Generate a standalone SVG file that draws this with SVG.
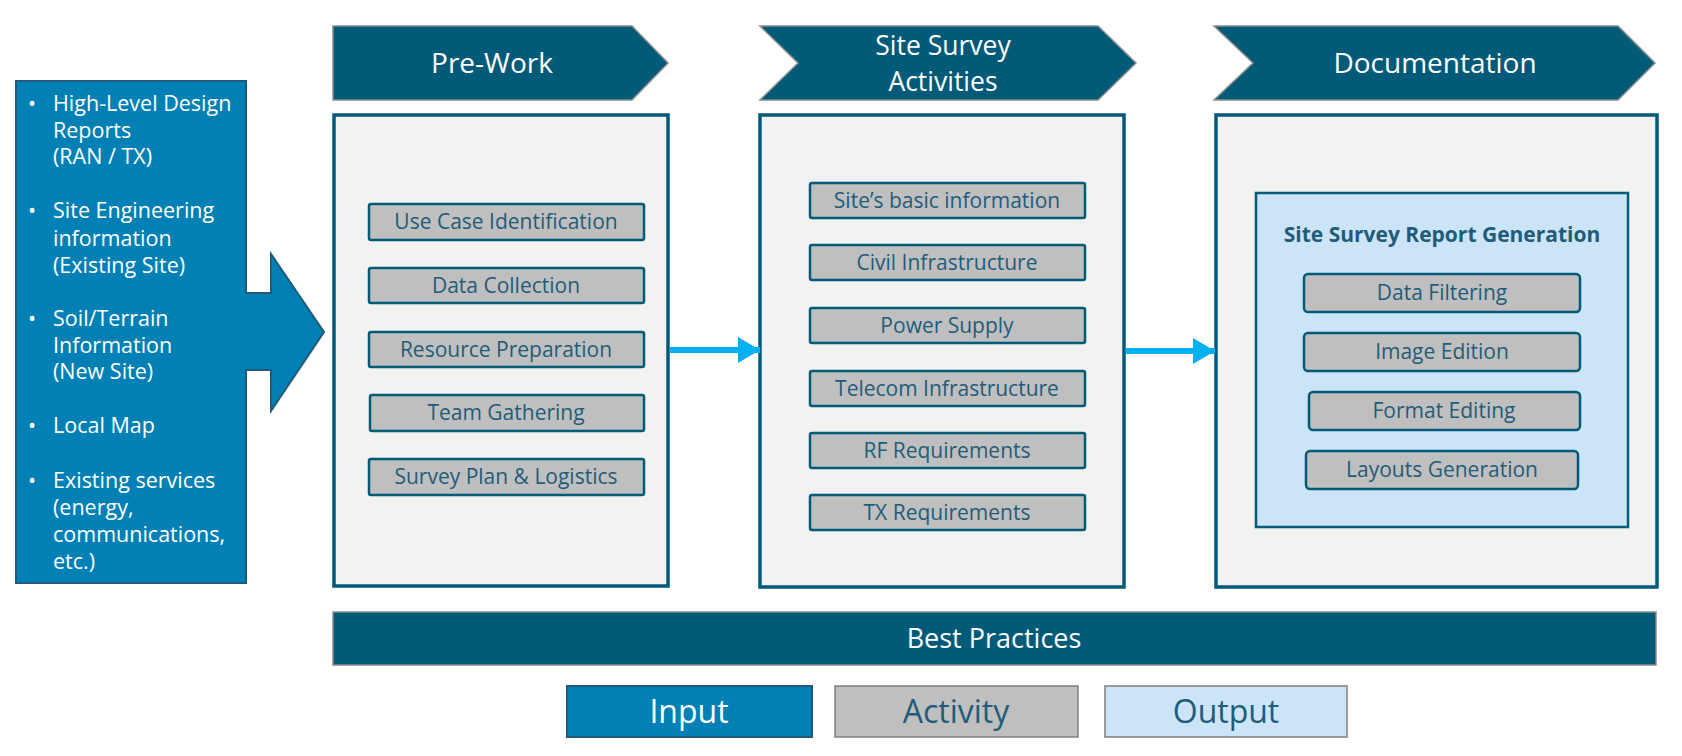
<svg xmlns="http://www.w3.org/2000/svg" width="1682" height="756" viewBox="0 0 1682 756">
<defs>
<style>
text{font-family:"Open Sans","Noto Sans","Liberation Sans",sans-serif;}
.chev{fill:#005A78;stroke:#8C8C8C;stroke-width:1.5;}
.hdr{fill:#ffffff;font-size:28px;text-anchor:middle;}
.hdr2{fill:#ffffff;font-size:26.5px;text-anchor:middle;}
.panel{fill:#F2F2F2;stroke:#005A78;stroke-width:3.5;}
.act{fill:#BFBFBF;stroke:#005A78;stroke-width:2.5;}
.actt{fill:#1F5C7A;font-size:21px;text-anchor:middle;}
.inp{fill:#0080B4;stroke:#1F5A7A;stroke-width:2;}
.inpt{fill:#ffffff;font-size:21.5px;}
.out{fill:#CCE4F7;stroke:#005A78;stroke-width:2.5;}
.conn{stroke:#00B0F0;stroke-width:6;fill:none;}
</style>
<marker id="ah" markerUnits="userSpaceOnUse" markerWidth="24" markerHeight="26" refX="22" refY="13" orient="auto">
<path d="M0,0 L22,13 L0,26 Z" fill="#00B0F0"/>
</marker>
</defs>
<rect width="1682" height="756" fill="#ffffff"/>

<g id="input">
<path class="inp" d="M16,81 H246 V293 H271 V254 L324,332 L271,411 V370 H246 V583 H16 Z"/>
<g class="inpt">
<text x="28" y="111">•</text>
<text x="53" y="111">High-Level Design</text>
<text x="53" y="138">Reports</text>
<text x="53" y="164">(RAN / TX)</text>
<text x="28" y="218">•</text>
<text x="53" y="218">Site Engineering</text>
<text x="53" y="246">information</text>
<text x="53" y="273">(Existing Site)</text>
<text x="28" y="326">•</text>
<text x="53" y="326">Soil/Terrain</text>
<text x="53" y="353">Information</text>
<text x="53" y="379">(New Site)</text>
<text x="28" y="433">•</text>
<text x="53" y="433">Local Map</text>
<text x="28" y="488">•</text>
<text x="53" y="488">Existing services</text>
<text x="53" y="515">(energy,</text>
<text x="53" y="542">communications,</text>
<text x="53" y="569">etc.)</text>
</g>
</g>

<g id="prework">
<path class="chev" d="M333,26 H632 L668,63 L632,100 H333 Z"/>
<text class="hdr" x="492" y="73">Pre-Work</text>
<rect class="panel" x="334" y="115" width="334" height="471"/>
<rect class="act" x="369" y="204" width="275" height="36" rx="2"/>
<text class="actt" x="506" y="229">Use Case Identification</text>
<rect class="act" x="369" y="268" width="275" height="35" rx="2"/>
<text class="actt" x="506" y="293">Data Collection</text>
<rect class="act" x="369" y="332" width="275" height="35" rx="2"/>
<text class="actt" x="506" y="357">Resource Preparation</text>
<rect class="act" x="370" y="395" width="274" height="36" rx="2"/>
<text class="actt" x="506" y="420">Team Gathering</text>
<rect class="act" x="369" y="459" width="275" height="36" rx="2"/>
<text class="actt" x="506" y="484">Survey Plan &amp; Logistics</text>
</g>

<g id="sitesurvey">
<path class="chev" d="M760,26 H1098 L1136,63 L1098,100 H760 L798,63 Z"/>
<text class="hdr2" x="943" y="55">Site Survey</text>
<text class="hdr2" x="943" y="91">Activities</text>
<rect class="panel" x="760" y="115" width="364" height="472"/>
<rect class="act" x="810" y="183" width="275" height="35" rx="2"/>
<text class="actt" x="947" y="208">Site’s basic information</text>
<rect class="act" x="810" y="245" width="275" height="35" rx="2"/>
<text class="actt" x="947" y="270">Civil Infrastructure</text>
<rect class="act" x="810" y="308" width="275" height="35" rx="2"/>
<text class="actt" x="947" y="333">Power Supply</text>
<rect class="act" x="810" y="371" width="275" height="35" rx="2"/>
<text class="actt" x="947" y="396">Telecom Infrastructure</text>
<rect class="act" x="810" y="433" width="275" height="35" rx="2"/>
<text class="actt" x="947" y="458">RF Requirements</text>
<rect class="act" x="810" y="495" width="275" height="35" rx="2"/>
<text class="actt" x="947" y="520">TX Requirements</text>
</g>

<g id="documentation">
<path class="chev" d="M1214,26 H1618 L1655,63 L1618,100 H1214 L1253,63 Z"/>
<text class="hdr" x="1435" y="73">Documentation</text>
<rect class="panel" x="1216" y="115" width="441" height="472"/>
<rect class="out" x="1256" y="193" width="372" height="334"/>
<text x="1442" y="242" font-size="21" font-weight="bold" fill="#1F5C7A" text-anchor="middle">Site Survey Report Generation</text>
<rect class="act" x="1304" y="274" width="276" height="38" rx="4"/>
<text class="actt" x="1442" y="300">Data Filtering</text>
<rect class="act" x="1304" y="333" width="276" height="38" rx="4"/>
<text class="actt" x="1442" y="359">Image Edition</text>
<rect class="act" x="1309" y="392" width="271" height="38" rx="4"/>
<text class="actt" x="1444" y="418">Format Editing</text>
<rect class="act" x="1306" y="451" width="272" height="38" rx="4"/>
<text class="actt" x="1442" y="477">Layouts Generation</text>
</g>

<g id="connectors">
<path class="conn" d="M670,350 H760" marker-end="url(#ah)"/>
<path class="conn" d="M1126,351 H1215" marker-end="url(#ah)"/>
</g>

<g id="bestpractices">
<rect x="333" y="612" width="1323" height="53" fill="#005A78" stroke="#8C8C8C" stroke-width="1.5"/>
<text x="994" y="648" font-size="27" fill="#ffffff" text-anchor="middle">Best Practices</text>
</g>

<g id="legend">
<rect class="inp" x="567" y="686" width="245" height="51"/>
<text x="689" y="723" font-size="32" fill="#ffffff" text-anchor="middle">Input</text>
<rect x="835" y="686" width="243" height="51" fill="#BFBFBF" stroke="#7F7F7F" stroke-width="1.5"/>
<text x="956" y="723" font-size="32" fill="#1F5C7A" text-anchor="middle">Activity</text>
<rect x="1105" y="686" width="242" height="51" fill="#CCE4F7" stroke="#7F7F7F" stroke-width="1.5"/>
<text x="1226" y="723" font-size="32" fill="#1F5C7A" text-anchor="middle">Output</text>
</g>
</svg>
